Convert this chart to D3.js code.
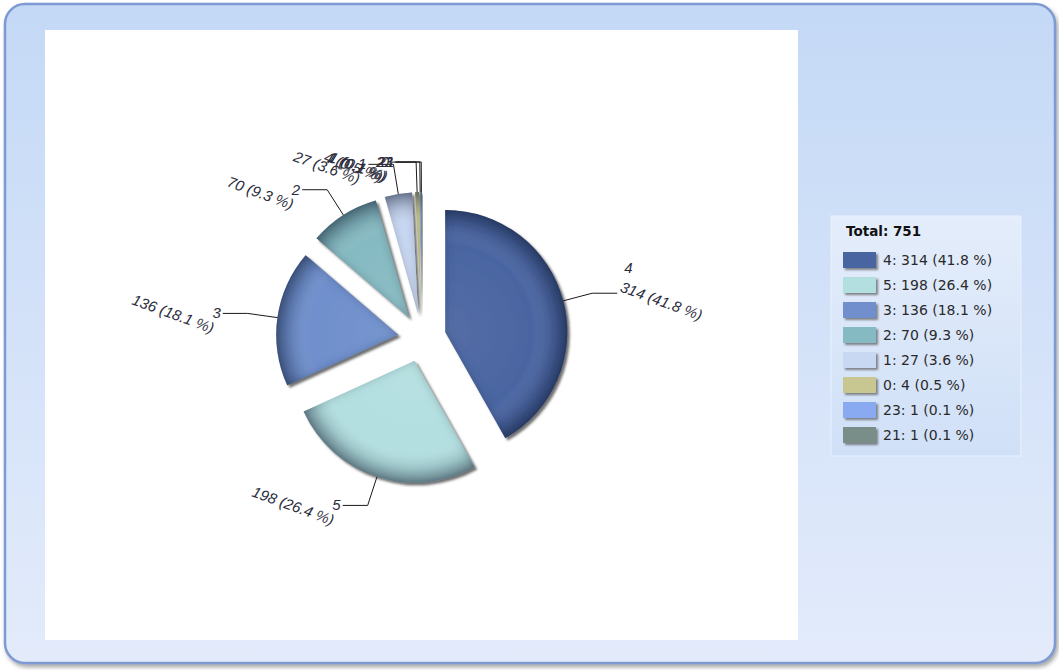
<!DOCTYPE html>
<html>
<head>
<meta charset="utf-8">
<script src="https://cdn.jsdelivr.net/npm/d3@7"></script>
<style>
  html, body { margin: 0; padding: 0; background: #ffffff; }
  svg { display: block; }
</style>
</head>
<body>
<svg id="chart" width="1059" height="670"></svg>
<script>
// Hourly distribution of events: category label and count per slice
const categories = ["4", "5", "3", "2", "1", "0", "23", "21"];
const counts = [314, 198, 136, 70, 27, 4, 1, 1];
const sliceColors = ["#4a65a1", "#b3dfe0", "#6f8fcc", "#86bac2", "#c8d7f2", "#c8c792", "#89aaf0", "#798e89"];
const totalLabel = "Total: ";

const W = 1059, H = 670;
const svg = d3.select("#chart");
const defs = svg.append("defs");

// Outer panel gradient
const panelGrad = defs.append("linearGradient").attr("id", "panelGrad")
  .attr("x1", 0).attr("y1", 0).attr("x2", 0).attr("y2", 1);
panelGrad.append("stop").attr("offset", 0).attr("stop-color", "#c4d9f6");
panelGrad.append("stop").attr("offset", 1).attr("stop-color", "#e3ebfb");

const legendGrad = defs.append("linearGradient").attr("id", "legendGrad")
  .attr("x1", 0).attr("y1", 0).attr("x2", 0).attr("y2", 1);
legendGrad.append("stop").attr("offset", 0).attr("stop-color", "#e4edfb");
legendGrad.append("stop").attr("offset", 1).attr("stop-color", "#d0e0f7");

// Panel shadow
const pShadow = defs.append("filter").attr("id", "panelShadow")
  .attr("x", "-5%").attr("y", "-5%").attr("width", "110%").attr("height", "110%");
pShadow.append("feDropShadow").attr("dx", 2).attr("dy", 3).attr("stdDeviation", 2)
  .attr("flood-color", "#606060").attr("flood-opacity", 0.55);

// Slice drop shadow + edge shading
const sShadow = defs.append("filter").attr("id", "sliceShadow")
  .attr("x", "-20%").attr("y", "-20%").attr("width", "140%").attr("height", "140%");
sShadow.append("feDropShadow").attr("dx", 2.5).attr("dy", 2.5).attr("stdDeviation", 1)
  .attr("flood-color", "#404040").attr("flood-opacity", 0.75);

const edge = defs.append("filter").attr("id", "innerEdge")
  .attr("x", "-10%").attr("y", "-10%").attr("width", "120%").attr("height", "120%");
edge.append("feComponentTransfer").attr("in", "SourceAlpha").attr("result", "inv")
  .append("feFuncA").attr("type", "table").attr("tableValues", "1 0");
edge.append("feGaussianBlur").attr("in", "inv").attr("stdDeviation", 4).attr("result", "blur");
edge.append("feFlood").attr("flood-color", "#0c1830").attr("flood-opacity", 0.38).attr("result", "col");
edge.append("feComposite").attr("in", "col").attr("in2", "blur").attr("operator", "in").attr("result", "shade");
edge.append("feComposite").attr("in", "shade").attr("in2", "SourceAlpha").attr("operator", "in").attr("result", "inner");
const em = edge.append("feMerge");
em.append("feMergeNode").attr("in", "SourceGraphic");
em.append("feMergeNode").attr("in", "inner");

// Swatch shadow
const swShadow = defs.append("filter").attr("id", "swShadow")
  .attr("x", "-20%").attr("y", "-30%").attr("width", "150%").attr("height", "180%");
swShadow.append("feDropShadow").attr("dx", 2).attr("dy", 2).attr("stdDeviation", 1)
  .attr("flood-color", "#555").attr("flood-opacity", 0.7);

// Background panel and plot area
svg.append("rect").attr("x", 5).attr("y", 4).attr("width", 1050).attr("height", 659)
  .attr("rx", 20).attr("ry", 20)
  .attr("fill", "url(#panelGrad)").attr("stroke", "#7d9bd2").attr("stroke-width", 2.5)
  .attr("filter", "url(#panelShadow)");
svg.append("rect").attr("x", 45).attr("y", 30).attr("width", 753).attr("height", 610)
  .attr("fill", "#ffffff");

// Pie geometry
const cx = 422, cy = 338, R = 122, explode = 24;
const leaderExt = 30, leaderRun = 25;

const total = d3.sum(counts);
const data = categories.map((c, i) => ({ cat: c, value: counts[i], color: sliceColors[i] }));
const pie = d3.pie().value(d => d.value).sort(null).startAngle(0).endAngle(2 * Math.PI);
const arcs = pie(data);
const arcGen = d3.arc().innerRadius(0).outerRadius(R);

// Rim shading gradient, in each slice's local coordinates
const rim = defs.append("radialGradient").attr("id", "rimGrad")
  .attr("gradientUnits", "userSpaceOnUse").attr("cx", 0).attr("cy", 0).attr("r", R);
rim.append("stop").attr("offset", 0).attr("stop-color", "#ffffff").attr("stop-opacity", 0.06);
rim.append("stop").attr("offset", 0.72).attr("stop-color", "#ffffff").attr("stop-opacity", 0);
rim.append("stop").attr("offset", 0.88).attr("stop-color", "#0a1428").attr("stop-opacity", 0.14);
rim.append("stop").attr("offset", 1).attr("stop-color", "#0a1428").attr("stop-opacity", 0.45);

const dir = a => [Math.sin(a), -Math.cos(a)];
const fmt = d3.format(".1f");

const slices = svg.append("g").selectAll("g.slice").data(arcs).join("g")
  .attr("class", "slice")
  .attr("transform", d => {
    const m = (d.startAngle + d.endAngle) / 2, [ux, uy] = dir(m);
    return `translate(${cx + ux * explode},${cy + uy * explode})`;
  })
  .attr("filter", "url(#sliceShadow)");

const inner = slices.append("g").attr("filter", "url(#innerEdge)");
inner.append("path").attr("d", arcGen).attr("fill", d => d.data.color);
inner.append("path").attr("d", arcGen).attr("fill", "url(#rimGrad)");

// Labels with leader lines
const labelFont = "'Liberation Sans', Arial, sans-serif";
const labels = svg.append("g");
arcs.forEach(d => {
  const m = (d.startAngle + d.endAngle) / 2, [ux, uy] = dir(m);
  const ax = cx + ux * explode, ay = cy + uy * explode;
  const p0 = [ax + ux * R, ay + uy * R];
  const p1 = [ax + ux * (R + leaderExt), ay + uy * (R + leaderExt)];
  const right = ux > 0;
  const p2 = [p1[0] + (right ? leaderRun : -leaderRun), p1[1]];
  labels.append("polyline")
    .attr("points", [p0, p1, p2].map(p => p.join(",")).join(" "))
    .attr("fill", "none").attr("stroke", "#1a1a1a").attr("stroke-width", 1);
  const valText = `${d.data.value} (${fmt(d.data.value / total * 100)} %)`;
  if (right) {
    labels.append("text").attr("x", p2[0] + 7).attr("y", p2[1] - 20)
      .attr("text-anchor", "start").text(d.data.cat);
    labels.append("text")
      .attr("transform", `translate(${p2[0] + 2},${p2[1] - 2}) rotate(20)`)
      .attr("text-anchor", "start").text(valText);
  } else {
    labels.append("text").attr("x", p2[0] - 2).attr("y", p2[1] + 5)
      .attr("text-anchor", "end").text(d.data.cat);
    labels.append("text")
      .attr("transform", `translate(${p2[0] - 11},${p2[1] + 20}) rotate(20)`)
      .attr("text-anchor", "end").text(valText);
  }
});
labels.selectAll("text")
  .attr("font-family", labelFont).attr("font-style", "italic")
  .attr("font-size", 15).attr("fill", "#2c2c3c");

// Legend
const legendFont = "'DejaVu Sans', Verdana, sans-serif";
const lg = svg.append("g").attr("transform", "translate(831,216)");
lg.append("rect").attr("width", 190).attr("height", 240)
  .attr("fill", "url(#legendGrad)").attr("stroke", "#eaf1fc").attr("stroke-width", 1);
lg.append("text").attr("x", 15).attr("y", 20)
  .attr("font-family", legendFont).attr("font-weight", "bold")
  .attr("font-size", 13.5).attr("fill", "#111").text(totalLabel + total);
const rows = lg.selectAll("g.row").data(data).join("g").attr("class", "row")
  .attr("transform", (d, i) => `translate(12,${36 + i * 25})`);
rows.append("rect").attr("width", 33).attr("height", 16)
  .attr("fill", d => d.color).attr("filter", "url(#swShadow)");
rows.append("text").attr("x", 40).attr("y", 13)
  .attr("font-family", legendFont)
  .attr("font-size", 14).attr("fill", "#2a2a2a")
  .text(d => `${d.cat}: ${d.value} (${fmt(d.value / total * 100)} %)`);
</script>
</body>
</html>
